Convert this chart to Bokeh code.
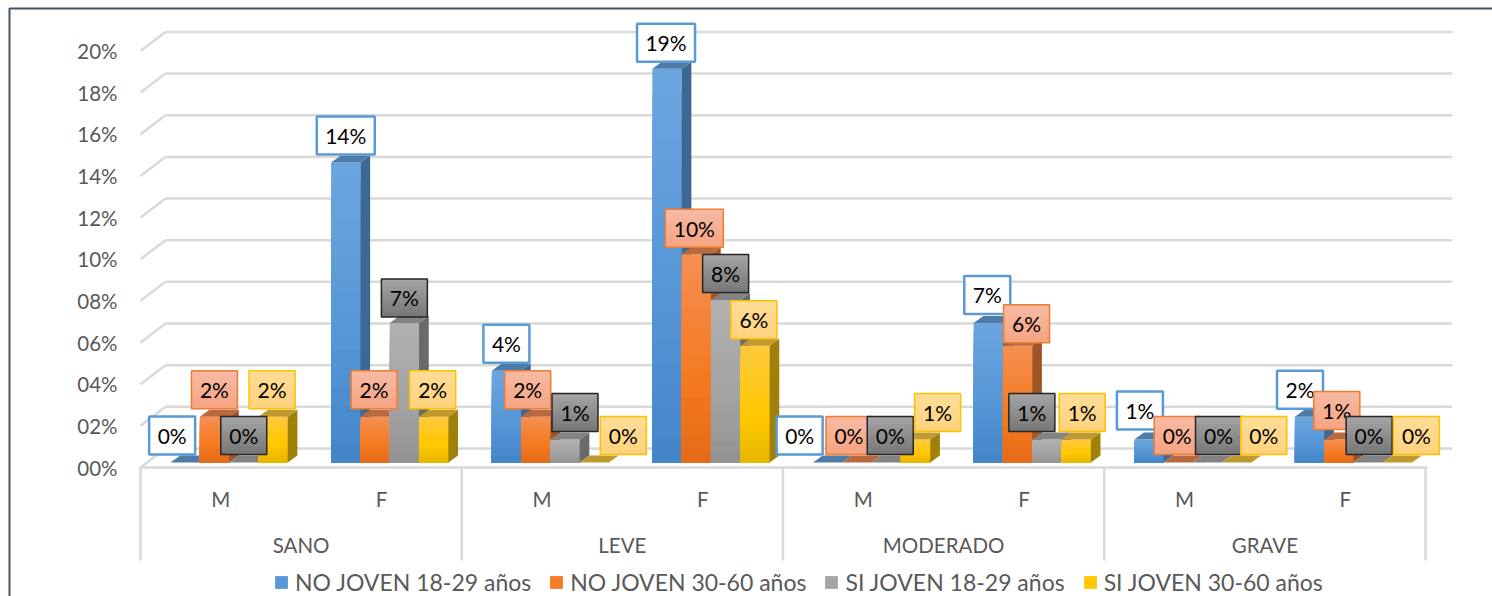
from bokeh.core.properties import value
from bokeh.embed import file_html
from bokeh.models import (ColumnDataSource, FixedTicker, Legend, LegendItem, LinearAxis, Range1d)
from bokeh.plotting import figure
from bokeh.resources import INLINE

# Data
severity = ["SANO", "LEVE", "MODERADO", "GRAVE"]
sexes = ["M", "F", "M", "F", "M", "F", "M", "F"]
series_names = ["NO JOVEN 18-29 años", "NO JOVEN 30-60 años", "SI JOVEN 18-29 años", "SI JOVEN 30-60 años"]
no_joven_18_29 = [0.0, 14.4, 4.4, 18.9, 0.0, 6.7, 1.1, 2.2]
no_joven_30_60 = [2.2, 2.2, 2.2, 10.0, 0.0, 5.6, 0.0, 1.1]
si_joven_18_29 = [0.0, 6.7, 1.1, 7.8, 0.0, 1.1, 0.0, 0.0]
si_joven_30_60 = [2.2, 2.2, 0.0, 5.6, 1.1, 1.1, 0.0, 0.0]
y_ticks = [0, 2, 4, 6, 8, 10, 12, 14, 16, 18, 20]

# Data-label nudges in pixels, relative to the centre of each bar's top edge
label_dx = [
    [-13, 0, 0, -1, -28, -1, -9, -9.5],
    [0, -1, -8, -2, -8, 9, -1, -2],
    [0, 0, 10, 0, 4, -15, 11, 1],
    [-1, -1, 29, -1, 22, 6, 27, 19],
]
label_rise = [
    [27, 27, 27, 26, 27, 28, 29, 27],
    [27, 27, 27, 26, 27, 22, 27, 29],
    [27, 25, 27, 26.5, 27, 27, 27, 27],
    [27, 27, 27, 26, 27, 27, 27, 27],
]

# Styles: front gradient (top, middle, bottom), side, roof, label fill gradient, label edge
styles = [
    dict(front=("#6ba5df", "#5596d6", "#4486c8"), side=("#48709c", "#35608c"), roof="#4f7ba8",
         fill=("#ffffff", "#ffffff"), edge="#5b9bd5", edge_w=2.5),
    dict(front=("#f68e50", "#f47a20", "#e66c18"), side=("#a65c30", "#96501c"), roof="#b8693f",
         fill=("#f7b9a2", "#f6a583"), edge="#ed7d31", edge_w=1.5),
    dict(front=("#b0b0b0", "#a3a3a3", "#949494"), side=("#727272", "#636363"), roof="#838383",
         fill=("#a3a3a3", "#787878"), edge="#262626", edge_w=1.5),
    dict(front=("#ffc93c", "#ffc800", "#e9b700"), side=("#a98a10", "#987700"), roof="#be9a30",
         fill=("#ffdd96", "#ffd27c"), edge="#ffc000", edge_w=1.5),
]
values = [no_joven_18_29, no_joven_30_60, si_joven_18_29, si_joven_30_60]

# Scale factors and 3D projection, in pixels
PX_CAT = 160.625
PX_PCT = 20.83
AXIS_LEFT, AXIS_BOTTOM = 140, 467
W, H = 1492, 596
BAR_W, BAR_START = 29.3, 30
BAR_LIFT, DEPTH_X, DEPTH_Y = 5, 9.7, 7
WALL_X, WALL_Y = 25, 19
SEPARATOR_DROP = 93
GREY, TEXT = "#d9d9d9", "#595959"
FONT = "Lato"


def ux(px):
    return px / PX_CAT


def uy(px):
    return px / PX_PCT


def mix(a, b, t):
    ca = [int(a[i:i + 2], 16) for i in (1, 3, 5)]
    cb = [int(b[i:i + 2], 16) for i in (1, 3, 5)]
    return "#%02x%02x%02x" % tuple(round(p + (q - p) * t) for p, q in zip(ca, cb))


def ramp(stops, t):
    # t runs from 0 at the foot of the gradient to 1 at its head
    top, mid, bottom = stops
    return mix(bottom, mid, t / 0.4) if t < 0.4 else mix(mid, top, (t - 0.4) / 0.6)


# The frame fills the page; the axes are pinned inside it
p = figure(width=W, height=H, output_backend="svg", toolbar_location=None,
           x_range=Range1d(ux(-AXIS_LEFT), ux(W - AXIS_LEFT)),
           y_range=Range1d(uy(AXIS_BOTTOM - H), uy(AXIS_BOTTOM)),
           x_axis_location=None, y_axis_location=None,
           min_border_left=0, min_border_right=0, min_border_top=0, min_border_bottom=0)
p.outline_line_color = None
p.grid.visible = False
p.background_fill_color = "white"

# Outer chart border, running off the right and bottom of the page
p.line(x=[ux(9 - AXIS_LEFT), ux(9 - AXIS_LEFT), ux(W - AXIS_LEFT)],
       y=[uy(AXIS_BOTTOM - H), uy(AXIS_BOTTOM - 8), uy(AXIS_BOTTOM - 8)],
       line_color="#44546a", line_width=2)

# Gridlines: the back wall plus the left wall's diagonals
wall_x, wall_y = ux(WALL_X), uy(WALL_Y)
p.segment(x0=[wall_x] * len(y_ticks), x1=[8 + ux(27)] * len(y_ticks),
          y0=[t + wall_y for t in y_ticks], y1=[t + wall_y for t in y_ticks],
          line_color=GREY, line_width=2.5)
p.segment(x0=[0] * len(y_ticks), x1=[wall_x] * len(y_ticks),
          y0=y_ticks, y1=[t + wall_y for t in y_ticks],
          line_color=GREY, line_width=2.5)

# Category groups: floor edge and separators
sep_ticks = [0, 2, 4, 6, 8]
p.segment(x0=sep_ticks, x1=sep_ticks, y0=[0] * 5, y1=[uy(-SEPARATOR_DROP)] * 5,
          line_color=GREY, line_width=2.5)
p.segment(x0=[0], x1=[8 + ux(2)], y0=[0], y1=[0], line_color=GREY, line_width=2.5)

# Bars, painted series by series so each one covers the right face of the last
N_SLICES = 16
front_renderers = []
for s, vals in enumerate(values):
    st = styles[s]
    lift = uy(BAR_LIFT)
    dx, dy = ux(DEPTH_X), uy(DEPTH_Y)
    bw = ux(BAR_W)
    left = [c + ux(BAR_START) + s * bw for c in range(len(vals))]

    # front face: nested rectangles from the full height down, for a vertical gradient
    q = dict(l=[], r=[], b=[], t=[], c=[])
    for x0, v in zip(left, vals):
        for k in range(N_SLICES, 0, -1):
            q["l"].append(x0)
            q["r"].append(x0 + bw)
            q["b"].append(lift)
            q["t"].append(lift + v * k / N_SLICES)
            q["c"].append(ramp(st["front"], (k - 1) / (N_SLICES - 1)))
    front = p.quad(left="l", right="r", bottom="b", top="t", fill_color="c", line_color=None,
                   source=ColumnDataSource(q))
    front_renderers.append(front)

    # right-hand face
    p.patches(xs=[[x0 + bw, x0 + bw + dx, x0 + bw + dx, x0 + bw] for x0 in left],
              ys=[[lift, lift + dy, lift + dy + v, lift + v] for v in vals],
              fill_color=mix(st["side"][0], st["side"][1], 0.5), line_color=None)
    # roof
    p.patches(xs=[[x0, x0 + dx, x0 + bw + dx, x0 + bw] for x0 in left],
              ys=[[lift + v, lift + v + dy, lift + v + dy, lift + v] for v in vals],
              fill_color=st["roof"], line_color=None)

# Data labels: boxes with a vertical gradient, edge and percentage text
for s, vals in enumerate(values):
    st = styles[s]
    cx = [c + ux(BAR_START) + (s + 0.5) * ux(BAR_W) + ux(label_dx[s][c]) for c in range(len(vals))]
    cy = [uy(BAR_LIFT) + v + uy(label_rise[s][c]) for c, v in enumerate(vals)]
    texts = [f"{round(v)}%" for v in vals]
    half_w = [ux(29 if len(t) > 2 else 23) for t in texts]
    half_h = uy(19)

    q = dict(l=[], r=[], b=[], t=[], c=[])
    n = 10
    for x, y, hw in zip(cx, cy, half_w):
        for k in range(n, 0, -1):
            q["l"].append(x - hw)
            q["r"].append(x + hw)
            q["b"].append(y - half_h)
            q["t"].append(y - half_h + 2 * half_h * k / n)
            q["c"].append(mix(st["fill"][1], st["fill"][0], (k - 1) / (n - 1)))
    p.quad(left="l", right="r", bottom="b", top="t", fill_color="c", line_color=None,
           source=ColumnDataSource(q))
    p.quad(left=[x - hw for x, hw in zip(cx, half_w)], right=[x + hw for x, hw in zip(cx, half_w)],
           bottom=[y - half_h for y in cy], top=[y + half_h for y in cy],
           fill_color=None, line_color=st["edge"], line_width=st["edge_w"])
    p.text(x=cx, y=cy, text=texts, text_font=value(FONT), text_font_size="21px",
           text_color="#000000", text_align="center", text_baseline="middle")

# Value axis
y_axis = LinearAxis(ticker=FixedTicker(ticks=y_ticks), fixed_location=0,
                    major_label_overrides={t: f"{t:02d}%" for t in y_ticks},
                    axis_line_color=None, major_tick_line_color=None, minor_tick_line_color=None,
                    major_label_standoff=17, major_label_text_font=FONT,
                    major_label_text_font_size="20.5px", major_label_text_color=TEXT)
p.add_layout(y_axis, "left")

# Two-level category axis
sex_ticks = [i + 0.5 for i in range(len(sexes))]
sex_axis = LinearAxis(ticker=FixedTicker(ticks=sex_ticks), fixed_location=0,
                      major_label_overrides=dict(zip(sex_ticks, sexes)),
                      axis_line_color=None, major_tick_line_color=None, minor_tick_line_color=None,
                      major_label_standoff=13, major_label_text_font=FONT,
                      major_label_text_font_size="20.5px", major_label_text_color=TEXT)
p.add_layout(sex_axis, "below")

group_ticks = [1, 3, 5, 7]
group_axis = LinearAxis(ticker=FixedTicker(ticks=group_ticks), fixed_location=0,
                        major_label_overrides=dict(zip(group_ticks, severity)),
                        axis_line_color=None, major_tick_line_color=None, minor_tick_line_color=None,
                        major_label_standoff=59, major_label_text_font=FONT,
                        major_label_text_font_size="20.5px", major_label_text_color=TEXT)
p.add_layout(group_axis, "below")

# Legend along the foot of the page
legend = Legend(items=[LegendItem(label=name, renderers=[r], index=N_SLICES // 2)
                       for name, r in zip(series_names, front_renderers)],
                orientation="horizontal", location=(273, 0),
                border_line_color=None, background_fill_alpha=0,
                glyph_width=16, glyph_height=16, label_standoff=6, spacing=17,
                margin=0, padding=0,
                label_text_font=FONT, label_text_font_size="23px", label_text_color=TEXT)
p.add_layout(legend, "center")

open("out.html", "w").write(file_html(p, INLINE))
